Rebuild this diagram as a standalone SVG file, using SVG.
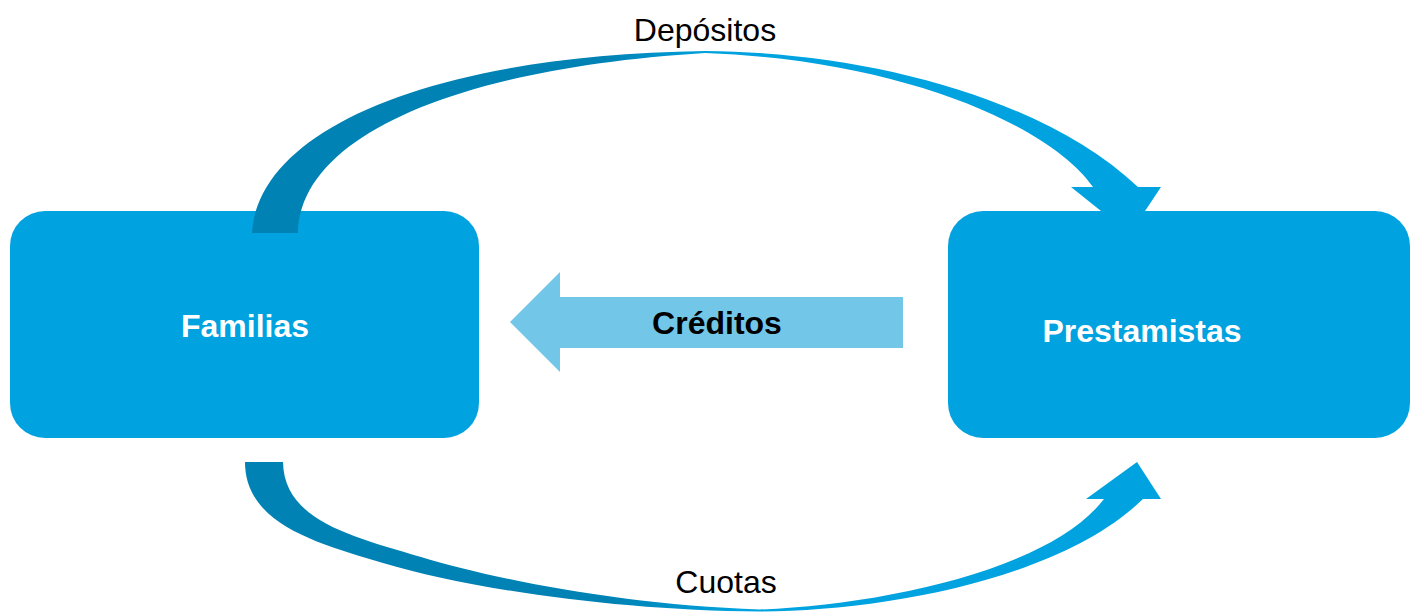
<svg xmlns="http://www.w3.org/2000/svg" width="1410" height="613" viewBox="0 0 1410 613">
<defs>
<linearGradient id="gTop" gradientUnits="userSpaceOnUse" x1="250" y1="0" x2="1160" y2="0">
<stop offset="0" stop-color="#0082B4"/>
<stop offset="0.39" stop-color="#0082B4"/>
<stop offset="0.51" stop-color="#00A3DF"/>
<stop offset="1" stop-color="#00A3DF"/>
</linearGradient>
<linearGradient id="gBot" gradientUnits="userSpaceOnUse" x1="245" y1="0" x2="1160" y2="0">
<stop offset="0" stop-color="#0082B4"/>
<stop offset="0.40" stop-color="#0082B4"/>
<stop offset="0.54" stop-color="#00A3DF"/>
<stop offset="1" stop-color="#00A3DF"/>
</linearGradient>
</defs>
<style>
.box{fill:#00A2DF}
.lbl{font-family:"Liberation Sans",Arial,sans-serif;font-size:32px;text-anchor:middle}
.bold{font-weight:bold}
.white{fill:#FFFFFF}
.black{fill:#000000}
</style>
<rect width="1410" height="613" fill="#FFFFFF"/>
<g id="familias">
<rect class="box" x="10" y="211" width="469" height="227" rx="35" ry="35"/>
<text class="lbl bold white" x="245" y="337">Familias</text>
</g>
<g id="prestamistas">
<rect class="box" x="948" y="211" width="462" height="227" rx="35" ry="35"/>
<text class="lbl bold white" x="1142" y="342">Prestamistas</text>
</g>
<g id="connectors">
<path id="deposit-arrow" fill="url(#gTop)" d="M252,233 C258,130 430,55 705,51 C860,52 1040,95 1138,187 L1161,187 L1145,211 L1101,211 L1071,187 L1093,187 C1050,125 900,60 705,53 C460,68 300,135 298,233 Z"/>
<path id="cuotas-arrow" fill="url(#gBot)" d="M245,462 C245,525 320,544 383,563 C470,589 620,611 760,611.5 C880,611 1060,580 1143,499 L1161,499 L1137,462 L1086,499 L1104,499 C1050,570 880,605 760,609.5 C620,605 490,578 421,557 C350,536 284,520 283,462 Z"/>
<path id="creditos-arrow" fill="#72C6E7" d="M903,297 L560,297 L560,272 L510,322 L560,372 L560,348 L903,348 Z"/>
<text class="lbl" x="705" y="41">Depósitos</text>
<text class="lbl" x="726" y="593">Cuotas</text>
<text class="lbl bold black" x="717" y="334">Créditos</text>
</g>
</svg>
